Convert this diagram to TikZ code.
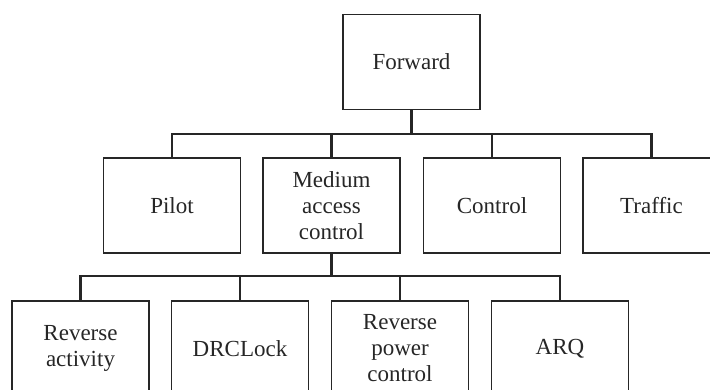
\documentclass[tikz,border=0pt]{standalone}
\usepackage{fontspec}
\setmainfont{Liberation Serif}
\definecolor{ink}{gray}{0.15}
\tikzset{
    box/.style={draw=ink, line width=1.2pt, minimum width=137pt, minimum height=95pt,
        inner sep=0pt, align=center, text=ink, font=\fontsize{23}{26}\selectfont},
    link/.style={draw=ink, line width=2.8pt},
}
\begin{document}
\begin{tikzpicture}[x=1pt, y=-1pt]
        \useasboundingbox (0,0) rectangle (710,390);
        \clip (0,0) rectangle (710,390);

        \node[box] (fwd) at (411.5, 62) {Forward};

        \node[box] (pilot) at (172, 205.5) {Pilot};
        \node[box] (mac) at (331.5, 205.5) {Medium\\access\\control};
        \node[box] (ctrl) at (492, 205.5) {Control};
        \node[box] (traffic) at (651.5, 205.5) {Traffic};

        \node[box] (ract) at (80.5, 348.5) {Reverse\\activity};
        \node[box] (drc) at (240, 348.5) {DRCLock};
        \node[box] (rpc) at (400, 348.5) {Reverse\\power\\control};
        \node[box] (arq) at (560, 348.5) {ARQ};

        \coordinate (busA) at (0, 134);
        \coordinate (busB) at (0, 276);

        % forward -> channels
        \draw[link] (fwd.south) -- (fwd.south |- busA);
        \draw[link] (pilot.north) |- (busA -| traffic.north) -- (traffic.north);
        \foreach \n in {mac, ctrl} {
            \draw[link] (\n.north) -- (\n.north |- busA);
        }

        % MAC -> sub channels
        \draw[link] (mac.south) -- (mac.south |- busB);
        \draw[link] (ract.north) |- (busB -| arq.north) -- (arq.north);
        \foreach \n in {drc, rpc} {
            \draw[link] (\n.north) -- (\n.north |- busB);
        }

    \end{tikzpicture}
\end{document}
